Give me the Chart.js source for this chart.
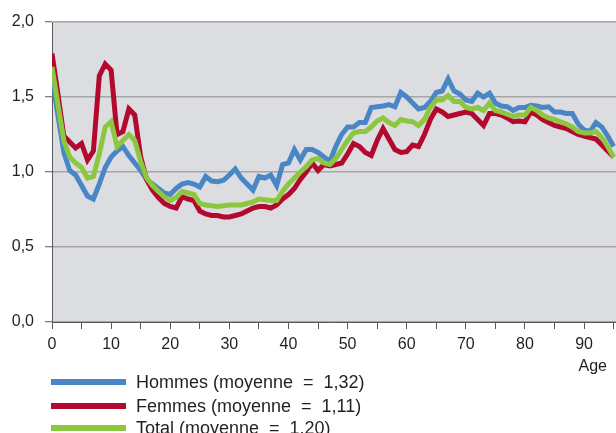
<!DOCTYPE html>
<html>
<head>
<meta charset="utf-8">
<script src="https://cdn.jsdelivr.net/npm/chart.js@4/dist/chart.umd.min.js"></script>
<style>
  html, body { margin: 0; padding: 0; background: #fff; overflow: hidden; }
  #wrap { position: relative; width: 616px; height: 433px; }
  #legend { position: absolute; left: 0; top: 0; width: 616px; height: 433px; pointer-events: none;
            font-family: "Liberation Sans", Arial, sans-serif; font-size: 18px; color: #231f20; }
  .row { position: absolute; left: 51px; height: 22px; line-height: 22px; white-space: pre; }
  .sw { position: absolute; left: 0; top: 8px; width: 75px; height: 6px; }
  .lbl { position: absolute; left: 85px; top: 0; }
</style>
</head>
<body>
<div id="wrap">
  <canvas id="chart"></canvas>
  <div id="legend"></div>
</div>
<script>
const ages = [
  0, 1, 2, 3, 4, 5, 6, 7, 8, 9, 10, 11, 12, 13, 14, 15, 16, 17, 18, 19,
  20, 21, 22, 23, 24, 25, 26, 27, 28, 29, 30, 31, 32, 33, 34, 35, 36, 37, 38, 39,
  40, 41, 42, 43, 44, 45, 46, 47, 48, 49, 50, 51, 52, 53, 54, 55, 56, 57, 58, 59,
  60, 61, 62, 63, 64, 65, 66, 67, 68, 69, 70, 71, 72, 73, 74, 75, 76, 77, 78, 79,
  80, 81, 82, 83, 84, 85, 86, 87, 88, 89, 90, 91, 92, 93, 94, 95
];

const hommes = [
  1.64, 1.38, 1.13, 1.01, 0.98, 0.91, 0.84, 0.82, 0.92, 1.03, 1.10, 1.14, 1.17, 1.11, 1.06, 1.01, 0.95, 0.92, 0.89, 0.86,
  0.85, 0.89, 0.92, 0.93, 0.92, 0.90, 0.97, 0.94, 0.935, 0.945, 0.98, 1.02, 0.96, 0.92, 0.88, 0.97, 0.96, 0.98, 0.91, 1.05,
  1.06, 1.15, 1.08, 1.15, 1.15, 1.13, 1.10, 1.07, 1.17, 1.25, 1.30, 1.30, 1.33, 1.33, 1.43, 1.435, 1.44, 1.45, 1.435, 1.53,
  1.50, 1.46, 1.42, 1.43, 1.47, 1.53, 1.54, 1.62, 1.54, 1.52, 1.48, 1.47, 1.525, 1.50, 1.525, 1.46, 1.44, 1.435, 1.41, 1.43,
  1.43, 1.445, 1.44, 1.43, 1.435, 1.40, 1.40, 1.39, 1.39, 1.32, 1.28, 1.27, 1.33, 1.30, 1.24, 1.17
];

const femmes = [
  1.79, 1.52, 1.24, 1.20, 1.16, 1.19, 1.08, 1.14, 1.64, 1.72, 1.68, 1.25, 1.27, 1.42, 1.38, 1.10, 0.95, 0.88, 0.83, 0.79,
  0.77, 0.76, 0.835, 0.82, 0.81, 0.74, 0.72, 0.71, 0.71, 0.70, 0.70, 0.71, 0.72, 0.74, 0.76, 0.77, 0.77, 0.76, 0.78, 0.82,
  0.85, 0.89, 0.95, 1.00, 1.06, 1.01, 1.05, 1.04, 1.05, 1.06, 1.12, 1.19, 1.17, 1.13, 1.11, 1.21, 1.29, 1.22, 1.15, 1.13,
  1.135, 1.18, 1.17, 1.25, 1.35, 1.42, 1.40, 1.37, 1.38, 1.39, 1.40, 1.39, 1.35, 1.31, 1.39, 1.39, 1.38, 1.36, 1.335, 1.34,
  1.335, 1.40, 1.38, 1.35, 1.33, 1.31, 1.30, 1.29, 1.27, 1.25, 1.24, 1.23, 1.22, 1.18, 1.14, 1.10
];

const total = [
  1.70, 1.45, 1.21, 1.10, 1.06, 1.03, 0.96, 0.97, 1.12, 1.30, 1.335, 1.17, 1.21, 1.25, 1.21, 1.07, 0.96, 0.91, 0.87, 0.835,
  0.81, 0.83, 0.87, 0.86, 0.85, 0.79, 0.78, 0.775, 0.77, 0.775, 0.78, 0.78, 0.78, 0.79, 0.80, 0.82, 0.815, 0.81, 0.81, 0.87,
  0.92, 0.96, 1.00, 1.035, 1.08, 1.09, 1.06, 1.05, 1.09, 1.15, 1.21, 1.26, 1.27, 1.27, 1.30, 1.34, 1.36, 1.33, 1.31, 1.35,
  1.34, 1.335, 1.31, 1.35, 1.43, 1.48, 1.48, 1.51, 1.47, 1.47, 1.43, 1.42, 1.43, 1.41, 1.46, 1.41, 1.40, 1.385, 1.37, 1.38,
  1.38, 1.43, 1.41, 1.38, 1.36, 1.35, 1.335, 1.32, 1.30, 1.27, 1.26, 1.26, 1.27, 1.23, 1.17, 1.10
];

const seriesNames = ['Hommes', 'Femmes', 'Total'];
const seriesMeans = ['1,32', '1,11', '1,20'];
const seriesColors = ['#4a86c6', '#b3092f', '#8dc63f'];
const yTicks = [0, 0.5, 1, 1.5, 2];

const FONT = '"Liberation Sans", Arial, sans-serif';
const TEXT = '#231f20';
const AXIS = '#595959';

function toPoints(values) {
  return ages.map((a, i) => ({ x: a, y: values[i] }));
}

// grey plot area behind the grid
const plotBg = {
  id: 'plotBg',
  beforeDraw(chart) {
    const { ctx, chartArea: a } = chart;
    ctx.save();
    ctx.fillStyle = '#dcdde0';
    ctx.fillRect(a.left, a.top, a.right - a.left, a.bottom - a.top);
    ctx.restore();
  }
};

// "Age" under the last tick labels, a bit in from the right edge
const ageTitle = {
  id: 'ageTitle',
  afterDraw(chart) {
    const { ctx } = chart;
    ctx.save();
    ctx.font = '16px ' + FONT;
    ctx.fillStyle = TEXT;
    ctx.textAlign = 'right';
    ctx.textBaseline = 'middle';
    ctx.fillText('Age', chart.chartArea.right - 9, 367);
    ctx.restore();
  }
};

const allSeries = [hommes, femmes, total];

new Chart(document.getElementById('chart'), {
  type: 'line',
  data: {
    datasets: allSeries.map((vals, i) => ({
      label: seriesNames[i],
      data: toPoints(vals),
      borderColor: seriesColors[i],
      backgroundColor: seriesColors[i],
      borderWidth: 5,
      pointRadius: 0,
      tension: 0,
      fill: false,
      order: 2 - i
    }))
  },
  options: {
    responsive: true,
    maintainAspectRatio: false,
    animation: false,
    layout: { padding: { top: 22, left: 0, right: 0, bottom: 0 } },
    plugins: {
      legend: { display: false },
      tooltip: { enabled: false }
    },
    scales: {
      x: {
        type: 'linear',
        min: 0,
        max: 95.4,
        afterFit(s) { s.height = 111; s.paddingRight = 0; s.paddingLeft = 0; },
        border: { display: true, color: AXIS, width: 1 },
        grid: { drawOnChartArea: false, drawTicks: true, tickLength: 7, tickColor: AXIS, tickWidth: 1 },
        ticks: {
          stepSize: 5,
          includeBounds: false,
          autoSkip: false,
          maxRotation: 0,
          padding: 6,
          color: TEXT,
          font: { family: FONT, size: 16 },
          callback: v => (v % 10 === 0 ? String(v) : '')
        }
      },
      y: {
        min: 0,
        max: 2,
        afterFit(s) { s.width = 52; },
        afterBuildTicks(s) { s.ticks = yTicks.map(v => ({ value: v })); },
        border: { display: true, color: AXIS, width: 1 },
        grid: { color: '#a6a6a6', lineWidth: 1.5, drawTicks: true, tickLength: 7, tickColor: AXIS, tickWidth: 1 },
        ticks: {
          padding: 11,
          color: TEXT,
          font: { family: FONT, size: 16 },
          callback: v => Number(v).toFixed(1).replace('.', ',')
        }
      }
    }
  },
  plugins: [plotBg, ageTitle]
});

// legend below the plot
const legendEl = document.getElementById('legend');
const rowCenters = [382, 405.5, 428];
seriesNames.forEach((name, i) => {
  const row = document.createElement('div');
  row.className = 'row';
  row.style.top = (rowCenters[i] - 11) + 'px';
  const sw = document.createElement('div');
  sw.className = 'sw';
  sw.style.background = seriesColors[i];
  const lbl = document.createElement('div');
  lbl.className = 'lbl';
  lbl.textContent = `${name} (moyenne  =  ${seriesMeans[i]})`;
  row.appendChild(sw);
  row.appendChild(lbl);
  legendEl.appendChild(row);
});
</script>
</body>
</html>
